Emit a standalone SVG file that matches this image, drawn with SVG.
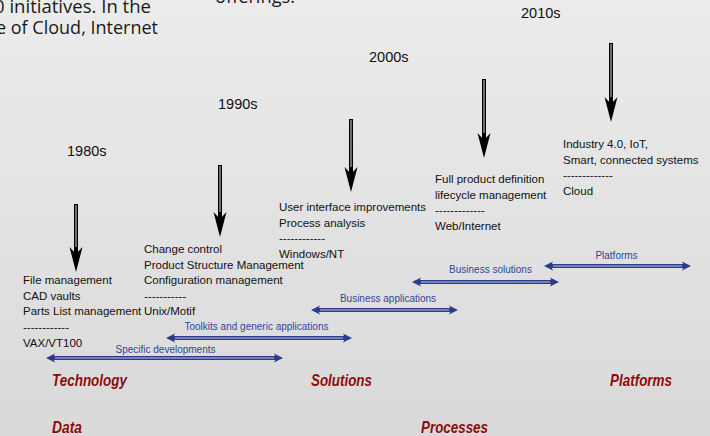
<svg xmlns="http://www.w3.org/2000/svg" width="710" height="436" viewBox="0 0 710 436">
  <defs>
    <linearGradient id="bg" x1="0" y1="0" x2="0" y2="1">
      <stop offset="0" stop-color="#ececec"/>
      <stop offset="1" stop-color="#d9d9d9"/>
    </linearGradient>
    <marker id="vhead" markerUnits="userSpaceOnUse" viewBox="0 -7 25 14" refX="11" refY="0" markerWidth="25" markerHeight="14" orient="auto">
      <path d="M0,-6.5 L25,0 L0,6.5 L7,0 Z" fill="#000"/>
    </marker>
    <marker id="bhead" markerUnits="userSpaceOnUse" viewBox="0 -5 9 10" refX="4" refY="0" markerWidth="9" markerHeight="10" orient="auto-start-reverse">
      <path d="M0,-4.5 L9,0 L0,4.5 L2,0 Z" fill="#2d3a8c"/>
    </marker>
    <style>
      .top { font-family: "Open Sans", "Noto Sans", sans-serif; font-size: 18px; fill: #1a1a1a; }
      .yr { font-family: "Liberation Sans", Arial, sans-serif; font-size: 14.5px; fill: #111; }
      .t { font-family: "Liberation Sans", Arial, sans-serif; font-size: 11.5px; fill: #111; }
      .bl { font-family: "Liberation Sans", Arial, sans-serif; font-size: 10px; fill: #34449a; text-anchor: middle; }
      .cat { font-family: "Liberation Sans", Arial, sans-serif; font-size: 16.5px; font-weight: bold; font-style: italic; fill: #8e0b0b; }
      .vout { stroke: #000; stroke-width: 4; marker-end: url(#vhead); }
      .vin { stroke: #8a8a8a; stroke-width: 1.6; }
      .hout { stroke: #2d3a8c; stroke-width: 4; marker-start: url(#bhead); marker-end: url(#bhead); }
      .hin { stroke: #c3c8e0; stroke-width: 1.2; }
    </style>
  </defs>

  <rect x="0" y="0" width="710" height="436" fill="url(#bg)"/>

  <g id="caption">
    <text class="top" x="215" y="3" textLength="80" lengthAdjust="spacingAndGlyphs">offerings.</text>
    <text class="top" x="-6" y="13" textLength="157" lengthAdjust="spacingAndGlyphs">0 initiatives. In the</text>
    <text class="top" x="-4" y="34" textLength="162" lengthAdjust="spacingAndGlyphs">e of Cloud, Internet</text>
  </g>

  <g id="connectors">
    <line class="vout" x1="76" y1="204" x2="76" y2="258"/>
    <line class="vin" x1="76" y1="205" x2="76" y2="247"/>
    <line class="vout" x1="220" y1="165" x2="220" y2="223"/>
    <line class="vin" x1="220" y1="166" x2="220" y2="212"/>
    <line class="vout" x1="351" y1="119" x2="351" y2="178"/>
    <line class="vin" x1="351" y1="120" x2="351" y2="167"/>
    <line class="vout" x1="484" y1="79" x2="484" y2="144"/>
    <line class="vin" x1="484" y1="80" x2="484" y2="133"/>
    <line class="vout" x1="611" y1="43" x2="611" y2="108"/>
    <line class="vin" x1="611" y1="44" x2="611" y2="97"/>

    <line class="hout" x1="51" y1="358" x2="278" y2="358"/>
    <line class="hin" x1="55" y1="358" x2="274" y2="358"/>
    <line class="hout" x1="171" y1="338" x2="347" y2="338"/>
    <line class="hin" x1="175" y1="338" x2="343" y2="338"/>
    <line class="hout" x1="316" y1="310" x2="453" y2="310"/>
    <line class="hin" x1="320" y1="310" x2="449" y2="310"/>
    <line class="hout" x1="417" y1="282" x2="554" y2="282"/>
    <line class="hin" x1="421" y1="282" x2="550" y2="282"/>
    <line class="hout" x1="549" y1="266" x2="686" y2="266"/>
    <line class="hin" x1="553" y1="266" x2="682" y2="266"/>
  </g>

  <g id="era-1980s">
    <text class="yr" x="67" y="156">1980s</text>
    <text class="t" x="23" y="284">File management</text>
    <text class="t" x="23" y="299.7">CAD vaults</text>
    <text class="t" x="23" y="315.4">Parts List management</text>
    <text class="t" x="23" y="331.1">------------</text>
    <text class="t" x="23" y="346.8">VAX/VT100</text>
  </g>

  <g id="era-1990s">
    <text class="yr" x="218" y="109">1990s</text>
    <text class="t" x="144" y="253">Change control</text>
    <text class="t" x="144" y="268.5">Product Structure Management</text>
    <text class="t" x="144" y="284">Configuration management</text>
    <text class="t" x="144" y="299.5">-----------</text>
    <text class="t" x="144" y="315">Unix/Motif</text>
  </g>

  <g id="era-2000s">
    <text class="yr" x="369" y="62">2000s</text>
    <text class="t" x="279" y="211">User interface improvements</text>
    <text class="t" x="279" y="226.5">Process analysis</text>
    <text class="t" x="279" y="242">------------</text>
    <text class="t" x="279" y="257.5">Windows/NT</text>
  </g>

  <g id="era-web">
    <text class="t" x="435" y="183">Full product definition</text>
    <text class="t" x="435" y="198.7">lifecycle management</text>
    <text class="t" x="435" y="214.4">-------------</text>
    <text class="t" x="435" y="230">Web/Internet</text>
  </g>

  <g id="era-2010s">
    <text class="yr" x="521" y="18">2010s</text>
    <text class="t" x="563" y="148">Industry 4.0, IoT,</text>
    <text class="t" x="563" y="163.5">Smart, connected systems</text>
    <text class="t" x="563" y="179">-------------</text>
    <text class="t" x="563" y="194.5">Cloud</text>
  </g>

  <g id="bands">
    <text class="bl" x="165.5" y="352.5">Specific developments</text>
    <text class="bl" x="256.5" y="329.5">Toolkits and generic applications</text>
    <text class="bl" x="388" y="301.5">Business applications</text>
    <text class="bl" x="490.5" y="272.5">Business solutions</text>
    <text class="bl" x="616.5" y="259">Platforms</text>
  </g>

  <g id="categories">
    <text class="cat" x="52" y="386" textLength="75" lengthAdjust="spacingAndGlyphs">Technology</text>
    <text class="cat" x="311" y="386" textLength="61" lengthAdjust="spacingAndGlyphs">Solutions</text>
    <text class="cat" x="610" y="386" textLength="62" lengthAdjust="spacingAndGlyphs">Platforms</text>
    <text class="cat" x="52" y="433" textLength="30" lengthAdjust="spacingAndGlyphs">Data</text>
    <text class="cat" x="421" y="433" textLength="67" lengthAdjust="spacingAndGlyphs">Processes</text>
  </g>
</svg>
